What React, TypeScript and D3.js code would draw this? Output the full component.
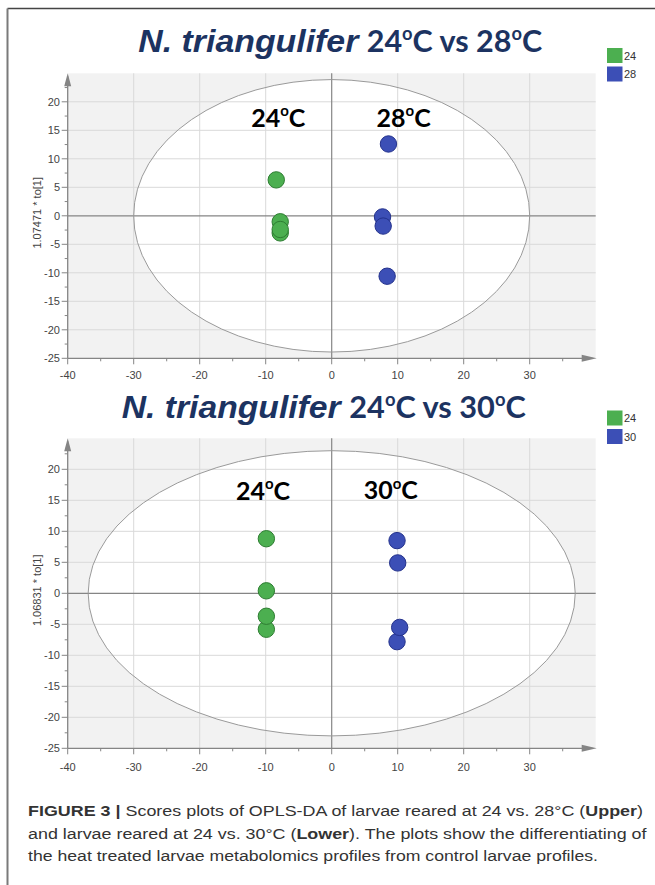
import React from "react";
import * as d3 from "d3";

// ---------- data ----------
const xTickValues = [-40, -30, -20, -10, 0, 10, 20, 30];
const xMinorTicks = [-35, -25, -15, -5, 5, 15, 25, 35];
const yTickValues = [20, 15, 10, 5, 0, -5, -10, -15, -20, -25];
const yMinorTicks = [22.5, 17.5, 12.5, 7.5, 2.5, -2.5, -7.5, -12.5, -17.5, -22.5];
const xGridValues = [-30, -20, -10, 10, 20, 30];
const yGridValues = [20, 15, 10, 5, -5, -10, -15, -20];

const upperGreenX = [-8.4, -7.8, -7.8, -7.8];
const upperGreenY = [6.3, -1.05, -3.0, -2.4];
const upperBlueX = [8.6, 7.7, 7.8, 8.4];
const upperBlueY = [12.6, -0.2, -1.8, -10.6];

const lowerGreenX = [-9.9, -9.9, -9.9, -9.9];
const lowerGreenY = [8.8, 0.4, -5.8, -3.7];
const lowerBlueX = [9.9, 10.0, 9.9, 10.3];
const lowerBlueY = [8.5, 4.9, -7.8, -5.5];

const upperEllipse = [30, 23.9];
const lowerEllipse = [36.9, 23.0];

const upperLegend = ["24", "28"];
const lowerLegend = ["24", "30"];

const upperLabels = [
  { t: "24", x: -8.1, y: 15.6 },
  { t: "28", x: 10.9, y: 15.6 },
];
const lowerLabels = [
  { t: "24", x: -10.4, y: 15.05 },
  { t: "30", x: 8.95, y: 15.2 },
];

const upperYLabel = "1.07471 * to[1]";
const lowerYLabel = "1.06831 * to[1]";

// ---------- styles ----------
const GREEN = "#4caf50";
const GREEN_S = "#2e7d32";
const BLUE = "#3c4fb6";
const BLUE_S = "#24328c";
const NAVY = "#1c3361";
const AXIS = "#858585";
const GRID = "#d9d9d9";
const BG = "#f2f2f2";
const TICKTXT = "#444";

type PanelProps = {
  top: number;
  bottom: number;
  ellipse: number[];
  gx: number[];
  gy: number[];
  bx: number[];
  by: number[];
  labels: { t: string; x: number; y: number }[];
  yLabel: string;
  legend: string[];
  legendTop: number;
  xLabelOffset: number;
};

function DegText({ num, size }: { num: string; size: number }) {
  return (
    <>
      <tspan>{num}</tspan>
      <tspan fontSize={size * 0.6} dy={-size * 0.42}>o</tspan>
      <tspan dy={size * 0.42}>C</tspan>
    </>
  );
}

function Panel(p: PanelProps) {
  const x = d3.scaleLinear().domain([-40, 40]).range([67.7, 595.7]);
  const y = d3.scaleLinear().domain([-25, 25]).range([p.bottom, p.top]);
  const left = x(-40);
  const right = x(40);
  const cx = x(0);
  const cy = y(0);
  const rx = x(p.ellipse[0]) - x(0);
  const ry = y(0) - y(p.ellipse[1]);
  const greens = p.gx.map((v, i) => [v, p.gy[i]]);
  const blues = p.bx.map((v, i) => [v, p.by[i]]);
  return (
    <g>
      <rect x={left} y={p.top} width={right - left} height={p.bottom - p.top} fill={BG} />
      <ellipse cx={cx} cy={cy} rx={rx} ry={ry} fill="#fff" />
      {xGridValues.map((v) => (
        <line key={"gx" + v} x1={x(v)} x2={x(v)} y1={p.top} y2={p.bottom} stroke={GRID} strokeWidth={1} />
      ))}
      {yGridValues.map((v) => (
        <line key={"gy" + v} x1={left} x2={right} y1={y(v)} y2={y(v)} stroke={GRID} strokeWidth={1} />
      ))}
      <line x1={cx} x2={cx} y1={p.top} y2={p.bottom} stroke={AXIS} strokeWidth={1.2} />
      <line x1={left} x2={right} y1={cy} y2={cy} stroke={AXIS} strokeWidth={1.2} />
      <ellipse cx={cx} cy={cy} rx={rx} ry={ry} fill="none" stroke="#9a9a9a" strokeWidth={1} />
      {/* axes */}
      <line x1={left} x2={left} y1={p.bottom} y2={p.top + 3} stroke={AXIS} strokeWidth={1.3} />
      <path d={`M${left - 3.5},${p.top + 13} L${left},${p.top} L${left + 3.5},${p.top + 13} Z`} fill={AXIS} />
      <line x1={left} x2={right - 3} y1={p.bottom} y2={p.bottom} stroke={AXIS} strokeWidth={1.3} />
      <path d={`M${right - 14},${p.bottom - 3.5} L${right + 1},${p.bottom} L${right - 14},${p.bottom + 3.5} Z`} fill={AXIS} />
      {xTickValues.map((v) => (
        <g key={"xt" + v}>
          <line x1={x(v)} x2={x(v)} y1={p.bottom} y2={p.bottom + 6} stroke={AXIS} />
          <text x={x(v)} y={p.bottom + p.xLabelOffset} textAnchor="middle" fontSize={11} fontFamily="Liberation Sans, Arial, sans-serif" fill={TICKTXT}>
            {v}
          </text>
        </g>
      ))}
      {xMinorTicks.map((v) => (
        <line key={"xm" + v} x1={x(v)} x2={x(v)} y1={p.bottom} y2={p.bottom + 3} stroke={AXIS} />
      ))}
      {yTickValues.map((v) => (
        <g key={"yt" + v}>
          <line x1={left - 6} x2={left} y1={y(v)} y2={y(v)} stroke={AXIS} />
          <text x={60} y={y(v) + 4} textAnchor="end" fontSize={11} fontFamily="Liberation Sans, Arial, sans-serif" fill={TICKTXT}>
            {v}
          </text>
        </g>
      ))}
      {yMinorTicks.map((v) => (
        <line key={"ym" + v} x1={left - 3} x2={left} y1={y(v)} y2={y(v)} stroke={AXIS} />
      ))}
      <text
        transform={`translate(41,${(p.top + p.bottom) / 2 - 3}) rotate(-90)`}
        textAnchor="middle"
        fontSize={11}
        fontFamily="Liberation Sans, Arial, sans-serif"
        fill={TICKTXT}
      >
        {p.yLabel}
      </text>
      {/* points */}
      {greens.map((d, i) => (
        <circle key={"g" + i} cx={x(d[0])} cy={y(d[1])} r={8.2} fill={GREEN} stroke={GREEN_S} strokeWidth={1} />
      ))}
      {blues.map((d, i) => (
        <circle key={"b" + i} cx={x(d[0])} cy={y(d[1])} r={8.2} fill={BLUE} stroke={BLUE_S} strokeWidth={1} />
      ))}
      {p.labels.map((l) => (
        <text key={l.t + l.x} x={x(l.x)} y={y(l.y)} textAnchor="middle" fontSize={25} fontWeight="bold" fontFamily="Lato, 'Open Sans', sans-serif" fill="#000">
          <DegText num={l.t} size={25} />
        </text>
      ))}
      {/* legend */}
      {p.legend.map((t, i) => (
        <g key={"lg" + t}>
          <rect x={607} y={p.legendTop + i * 18.5} width={15.5} height={15} fill={i === 0 ? GREEN : BLUE} />
          <text x={624} y={p.legendTop + i * 18.5 + 11.5} fontSize={11} fontFamily="Liberation Sans, Arial, sans-serif" fill="#333">
            {t}
          </text>
        </g>
      ))}
    </g>
  );
}

function Title({ y, x1, w1, x2, size2, second }: { y: number; x1: number; w1: number; x2: number; size2: number; second: string }) {
  const sup = size2 * 0.6;
  const up = size2 * 0.41;
  return (
    <g>
      <text x={x1} y={y} fontFamily="Liberation Sans, Arial, sans-serif" fontWeight="bold" fontStyle="italic" fontSize={32} fill={NAVY} textLength={w1} lengthAdjust="spacingAndGlyphs">
        N. triangulifer
      </text>
      <text x={x2} y={y} fontFamily="Lato, 'Open Sans', sans-serif" fontWeight="bold" fontSize={size2} fill={NAVY}>
        <tspan>24</tspan>
        <tspan fontSize={sup} dy={-up}>o</tspan>
        <tspan dy={up}>C vs {second}</tspan>
        <tspan fontSize={sup} dy={-up}>o</tspan>
        <tspan dy={up}>C</tspan>
      </text>
    </g>
  );
}

export default function App() {
  const capFont = "Liberation Sans, Arial, Helvetica, sans-serif";
  return (
    <svg width={655} height={885} style={{ position: "absolute", left: 0, top: 0, background: "#fff" }}>
      <rect x={0} y={0} width={655} height={885} fill="#fff" />
      {/* frame */}
      <line x1={7.5} x2={660} y1={8.5} y2={8.5} stroke="#444" strokeWidth={1.6} />
      <line x1={7.5} x2={7.5} y1={8.5} y2={890} stroke="#7a7a7a" strokeWidth={2} />

      <Title y={52.3} x1={138.3} w1={220} x2={366.7} size2={30.5} second="28" />
      <Panel
        top={73.3}
        bottom={358.3}
        ellipse={upperEllipse}
        gx={upperGreenX}
        gy={upperGreenY}
        bx={upperBlueX}
        by={upperBlueY}
        labels={upperLabels}
        yLabel={upperYLabel}
        legend={upperLegend}
        legendTop={48}
        xLabelOffset={20.5}
      />
      <Title y={418.3} x1={121.7} w1={219} x2={349.3} size2={30.7} second="30" />
      <Panel
        top={438.3}
        bottom={748.3}
        ellipse={lowerEllipse}
        gx={lowerGreenX}
        gy={lowerGreenY}
        bx={lowerBlueX}
        by={lowerBlueY}
        labels={lowerLabels}
        yLabel={lowerYLabel}
        legend={lowerLegend}
        legendTop={410.5}
        xLabelOffset={22.5}
      />

      {/* caption */}
      <g fontFamily={capFont} fontSize={15.5} fill="#333">
        <text x={28} y={816} textLength={615} lengthAdjust="spacingAndGlyphs">
          <tspan fontWeight="bold">FIGURE 3 |</tspan>
          <tspan> Scores plots of OPLS-DA of larvae reared at 24 vs. 28°C (</tspan>
          <tspan fontWeight="bold">Upper</tspan>
          <tspan>)</tspan>
        </text>
        <text x={28} y={838.5} textLength={618.5} lengthAdjust="spacingAndGlyphs">
          <tspan>and larvae reared at 24 vs. 30°C (</tspan>
          <tspan fontWeight="bold">Lower</tspan>
          <tspan>). The plots show the differentiating of</tspan>
        </text>
        <text x={28} y={861} textLength={570} lengthAdjust="spacingAndGlyphs">
          the heat treated larvae metabolomics profiles from control larvae profiles.
        </text>
      </g>
    </svg>
  );
}
